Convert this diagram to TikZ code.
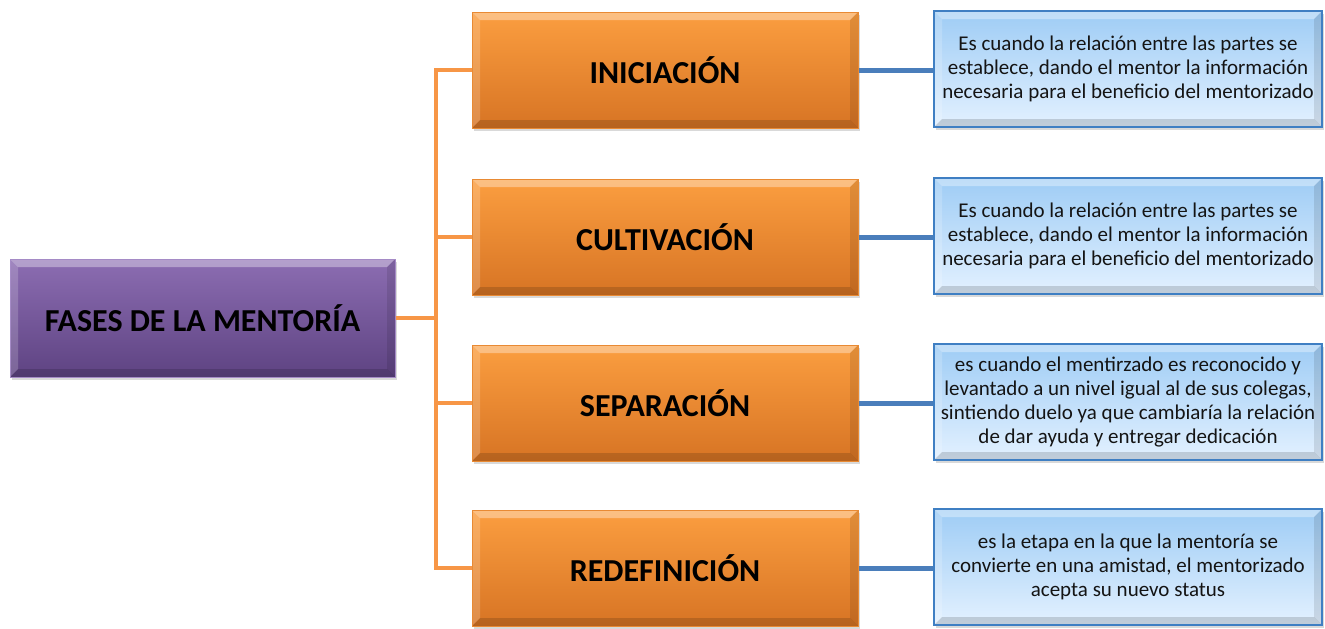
\documentclass[tikz,border=0pt]{standalone}
\usepackage{fontspec}
\setmainfont{Carlito}
\usetikzlibrary{shadows}
\definecolor{orgtop}{HTML}{FB9E40}
\definecolor{orgbot}{HTML}{D77424}
\definecolor{orgedge}{HTML}{E88A34}
\definecolor{purtop}{HTML}{8C6DB2}
\definecolor{purbot}{HTML}{5E4382}
\definecolor{puredge}{HTML}{A58BC6}
\definecolor{blutop}{HTML}{9ECCF5}
\definecolor{blubot}{HTML}{E3F1FF}
\definecolor{bluedge}{HTML}{3F7FC3}
\definecolor{orgline}{HTML}{F79646}
\definecolor{bluline}{HTML}{4A7EBB}
\definecolor{txt}{HTML}{141414}
\tikzset{
  bevel/.style={path picture={
    \coordinate (nw) at (path picture bounding box.north west);
    \coordinate (ne) at (path picture bounding box.north east);
    \coordinate (sw) at (path picture bounding box.south west);
    \coordinate (se) at (path picture bounding box.south east);
    \fill[white,opacity=0.35] (nw) -- (ne) -- ([xshift=-8pt,yshift=-8pt]ne) -- ([xshift=8pt,yshift=-8pt]nw) -- cycle;
    \fill[white,opacity=0.18] (nw) -- ([xshift=8pt,yshift=-8pt]nw) -- ([xshift=8pt,yshift=8pt]sw) -- (sw) -- cycle;
    \fill[black,opacity=0.15] (sw) -- (se) -- ([xshift=-8pt,yshift=8pt]se) -- ([xshift=8pt,yshift=8pt]sw) -- cycle;
    \fill[black,opacity=0.10] (ne) -- (se) -- ([xshift=-8pt,yshift=8pt]se) -- ([xshift=-8pt,yshift=-8pt]ne) -- cycle;
  }},
  boxshadow/.style={drop shadow={opacity=0.3, shadow xshift=2pt, shadow yshift=-3pt}},
  rootbox/.style={rectangle, minimum width=385pt, minimum height=118pt, top color=purtop, bottom color=purbot,
    draw=puredge, line width=1pt, boxshadow, bevel, font=\bfseries\fontsize{32}{38}\selectfont, text=black},
  phasebox/.style={rectangle, minimum width=386pt, minimum height=116pt, top color=orgtop, bottom color=orgbot,
    draw=orgedge, line width=1pt, boxshadow, bevel, font=\bfseries\fontsize{32}{38}\selectfont, text=black},
  descbox/.style={rectangle, minimum width=388pt, minimum height=116pt, inner sep=2pt, shading=axis, shading angle=225,
    top color=blutop, bottom color=blubot, draw=bluedge, line width=2.5pt, boxshadow, bevel,
    font=\fontsize{21}{23.8}\selectfont, text=txt, align=center},
  orgconn/.style={draw=orgline, line width=4pt},
  bluconn/.style={draw=bluline, line width=5pt},
}
\begin{document}
\begin{tikzpicture}[x=1pt,y=-1pt]
\useasboundingbox (0,0) rectangle (1325,629);
\node[rootbox] (fases) at (202.5,318) {FASES DE LA MENTORÍA};
\node[phasebox] (ini) at (665,70) {INICIACIÓN};
\node[phasebox] (cul) at (665,237) {CULTIVACIÓN};
\node[phasebox] (sep) at (665,403) {SEPARACIÓN};
\node[phasebox] (red) at (665,568) {REDEFINICIÓN};
\node[descbox] (d1) at (1128,69) {Es cuando la relación entre las partes se\\establece, dando el mentor la información\\necesaria para el beneficio del mentorizado};
\node[descbox] (d2) at (1128,236) {Es cuando la relación entre las partes se\\establece, dando el mentor la información\\necesaria para el beneficio del mentorizado};
\node[descbox] (d3) at (1128,402) {es cuando el mentirzado es reconocido y\\levantado a un nivel igual al de sus colegas,\\sintiendo duelo ya que cambiaría la relación\\de dar ayuda y entregar dedicación};
\node[descbox] (d4) at (1128,567) {es la etapa en la que la mentoría se\\convierte en una amistad, el mentorizado\\acepta su nuevo status};
\foreach \p in {ini,cul,sep,red}{
  \draw[orgconn] (fases.east) -- ++(40,0) |- (\p.west);
}
\draw[bluconn] (ini.east) -- (ini.east -| d1.west);
\draw[bluconn] (cul.east) -- (cul.east -| d2.west);
\draw[bluconn] (sep.east) -- (sep.east -| d3.west);
\draw[bluconn] (red.east) -- (red.east -| d4.west);
\end{tikzpicture}
\end{document}
